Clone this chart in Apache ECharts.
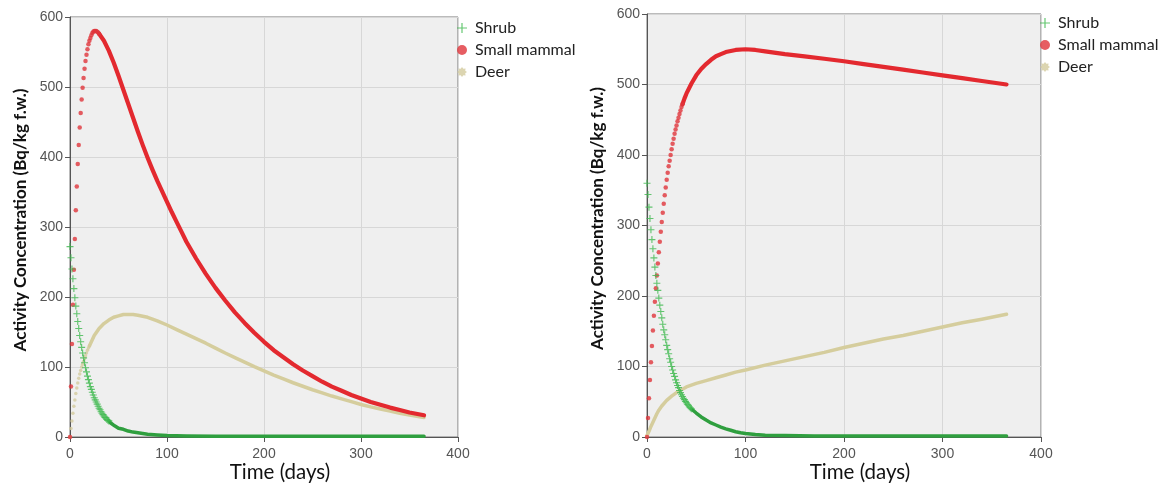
<!DOCTYPE html>
<html><head><meta charset="utf-8">
<script src="https://cdn.jsdelivr.net/npm/echarts@6/dist/echarts.min.js"></script>
<style>html,body{margin:0;padding:0;background:#fff}#c{width:1165px;height:484px}</style>
</head><body><div id="c"></div>
<script>
// ---- names / ticks ----
const seriesNames = ['Shrub', 'Small mammal', 'Deer'];
const xTicks = [0, 100, 200, 300, 400];
const yTicks = [0, 100, 200, 300, 400, 500, 600];
const xTitle = 'Time (days)';
const yTitle = 'Activity Concentration (Bq/kg f.w.)';

// ---- LEFT panel: daily values (index = day) for the early part ----
const leftShrubEarly = [272,256,240,226,212,199,187,176,165,155,145,136,128,120,113,106,99,93,87,82,77,72,68,64,60,56,53,50,47,44,41,39,36,34,32,30,28,27,25,24,23];
const leftMammalEarly = [0,72,133,189,239,283,324,358,390,417,442,463,482,499,513,526,537,546,554,561,566,570,574,577,579,580,580,580,579,578,576];
const leftDeerEarly = [0,12,23,34,44,53,62,70,77,84,90,95,100,104,108,112,116,120,124,127,130];
// ---- LEFT panel: [day, value] for the dense later part ----
const leftShrubTail = [[40,23],[42,20],[44,18],[46,16],[48,14],[50,12.5],[55,11],[60,8.5],[65,7],[70,6],[75,5],[80,4],[90,3],[100,2],[120,1.5],[150,1],[200,1],[250,1],[300,1],[365,1]];
const leftMammalTail = [[30,576],[35,566],[40,552],[45,535],[50,516],[55,496],[60,476],[65,456],[70,436],[75,417],[80,399],[85,382],[90,366],[95,351],[100,336],[105,321],[110,307],[115,293],[120,279],[130,255],[140,233],[150,213],[160,195],[170,178],[180,163],[190,149],[200,136],[210,124],[220,114],[230,104],[240,95],[250,87],[260,79],[270,72],[280,66],[290,60],[300,55],[310,50],[320,46],[330,42],[340,38.5],[350,35],[365,31]];
const leftDeerTail = [[20,130],[25,145],[30,155],[35,162],[40,167],[45,171],[50,173],[55,175],[60,175],[65,175],[70,174],[80,171],[90,166],[100,160],[110,153.5],[120,147],[130,140.5],[140,134],[150,127],[160,120],[170,113.5],[180,107],[190,100.5],[200,94.5],[210,88.5],[220,83],[230,77.5],[240,72.5],[250,67.5],[260,63],[270,58.5],[280,54.5],[290,50.5],[300,46.5],[310,43],[320,40],[330,37],[340,34],[350,31.5],[365,28]];

// ---- RIGHT panel ----
const rightShrubEarly = [360,344,326,310,294,280,267,254,241,229,218,208,197,187,178,169,160,152,145,138,130,124,118,111,106,100,95,90,86,81,77,73,70,66,63,60,57.5,55,53,50.5,48.5,46.5,45,43,41.5,40];
const rightMammalEarly = [0,27,55,81,106,129,151,172,192,211,229,246,262,277,291,305,318,331,343,354,365,375,384,392,400,408,416,423,430,436,442,448,453,458,463,468,472];
const rightShrubTail = [[45,40],[50,34],[55,28.5],[60,24],[65,20],[70,17],[75,14],[80,11.5],[85,9.5],[90,7.5],[95,6],[100,5],[110,3.5],[120,2.5],[140,2],[170,1.5],[200,1.5],[250,1.5],[300,1.5],[365,1.5]];
const rightMammalTail = [[36,472],[38,480],[40,487],[45,501],[50,513],[55,522],[60,529],[65,535],[70,540],[75,543],[80,546],[90,549],[100,550],[110,549],[120,547],[140,543],[160,540],[180,536.5],[200,533],[220,529],[240,525],[260,521],[280,517],[300,513],[320,509],[340,505],[365,500]];
const rightDeerTail = [[0,2],[2,8],[4,15],[6,21],[8,27],[10,33],[12,38],[15,44],[20,52],[25,58],[30,63],[35,67],[40,71],[50,76],[60,80],[70,84],[80,88],[90,92],[100,95],[120,102],[140,108],[160,114],[180,120],[200,127],[220,133],[240,139],[260,144],[280,150],[300,156],[320,162],[340,167],[365,174]];

// ---- styling ----
const RED = '#e3292f', RED_DOT = '#e0353b';
const GREEN_DOT = '#3fb94f', GREEN = '#2f9f3f';
const DEER = '#d5cd9d', DEER_DOT = '#d3cb9e';
const PLUS = 'path://M4.2,0H5.8V4.2H10V5.8H5.8V10H4.2V5.8H0V4.2H4.2Z';
const PLUS_LEG = 'path://M4.4,0H5.6V4.4H10V5.6H5.6V10H4.4V5.6H0V4.4H4.4Z';
const SUN = 'path://M10,5L8.23,6.34L8.54,8.54L6.34,8.23L5,10L3.66,8.23L1.46,8.54L1.77,6.34L0,5L1.77,3.66L1.46,1.46L3.66,1.77L5,0L6.34,1.77L8.54,1.46L8.23,3.66Z';

const daily = arr => arr.map((v, i) => [i, v]);

const chart = echarts.init(document.getElementById('c'), null, {renderer: 'canvas'});

function xAxisCfg(gi) {
  return {
    type: 'value', gridIndex: gi, min: xTicks[0], max: xTicks[xTicks.length - 1],
    interval: xTicks[1] - xTicks[0],
    name: xTitle, nameLocation: 'middle', nameGap: 25, nameMoveOverlap: false,
    nameTextStyle: {fontFamily: 'Lato', fontSize: 20.5, color: '#111', padding: [0, 0, 0, 32]},
    axisLine: {show: true, onZero: false, lineStyle: {color: '#555', width: 1}},
    axisTick: {show: true, length: 5, lineStyle: {color: '#555'}},
    axisLabel: {color: '#555', fontSize: 14, fontFamily: 'Liberation Sans', margin: 10},
    splitLine: {show: true, lineStyle: {color: '#d7d7d7', width: 1}}
  };
}
function yAxisCfg(gi) {
  return {
    type: 'value', gridIndex: gi, min: yTicks[0], max: yTicks[yTicks.length - 1],
    interval: yTicks[1] - yTicks[0],
    name: yTitle, nameLocation: 'middle', nameGap: 41,
    nameTextStyle: {fontFamily: 'Lato', fontWeight: 'bold', fontSize: 17, color: '#111', padding: [0, 0, 0, 14]},
    axisLine: {show: true, onZero: false, lineStyle: {color: '#555', width: 1}},
    axisTick: {show: true, length: 5, lineStyle: {color: '#555'}},
    axisLabel: {color: '#555', fontSize: 14, fontFamily: 'Liberation Sans', margin: 7},
    splitLine: {show: true, lineStyle: {color: '#d7d7d7', width: 1}}
  };
}
function legendCfg(left, top) {
  return {
    orient: 'vertical', left: left, top: top, itemWidth: 10, itemHeight: 10, itemGap: 4,
    textStyle: {fontFamily: 'Lato', fontSize: 16, color: '#222', lineHeight: 18, padding: [0, 0, 0, 3]},
    selectedMode: false,
    data: [
      {name: seriesNames[0], icon: PLUS_LEG},
      {name: seriesNames[1], icon: 'circle'},
      {name: seriesNames[2], icon: SUN}
    ]
  };
}
function panelSeries(gi, shrubEarly, shrubTail, mamEarly, mamTail, deerEarly, deerTail) {
  const s = [];
  const lineBase = {type: 'line', xAxisIndex: gi, yAxisIndex: gi, showSymbol: false, symbol: 'none', smooth: false};
  if (deerEarly) s.push({name: seriesNames[2], type: 'scatter', xAxisIndex: gi, yAxisIndex: gi, data: daily(deerEarly), symbol: 'circle', symbolSize: 3.5, itemStyle: {color: DEER_DOT}, z: 2});
  s.push(Object.assign({}, lineBase, {name: seriesNames[2], data: deerTail, lineStyle: {width: 3.5, color: DEER, cap: 'round', join: 'round'}, itemStyle: {color: DEER_DOT}, z: 2}));
  s.push({name: seriesNames[1], type: 'scatter', xAxisIndex: gi, yAxisIndex: gi, data: daily(mamEarly), symbol: 'circle', symbolSize: 4.5, itemStyle: {color: RED_DOT}, z: 3});
  s.push(Object.assign({}, lineBase, {name: seriesNames[1], data: mamTail, lineStyle: {width: 4.2, color: RED, cap: 'round', join: 'round'}, itemStyle: {color: RED_DOT}, z: 3}));
  s.push({name: seriesNames[0], type: 'scatter', xAxisIndex: gi, yAxisIndex: gi, data: daily(shrubEarly), symbol: PLUS, symbolSize: 7, itemStyle: {color: GREEN_DOT}, z: 4});
  s.push(Object.assign({}, lineBase, {name: seriesNames[0], data: shrubTail, lineStyle: {width: 3.5, color: GREEN, cap: 'round', join: 'round'}, itemStyle: {color: GREEN_DOT}, z: 4}));
  return s;
}

const gridBase = {show: true, backgroundColor: '#efefef', borderColor: '#777', borderWidth: 1, containLabel: false, outerBoundsMode: 'none'};

chart.setOption({
  animation: false,
  backgroundColor: '#ffffff',
  grid: [
    Object.assign({left: 70, top: 17, width: 388, height: 420}, gridBase),
    Object.assign({left: 647, top: 14, width: 394, height: 423}, gridBase)
  ],
  xAxis: [xAxisCfg(0), xAxisCfg(1)],
  yAxis: [yAxisCfg(0), yAxisCfg(1)],
  legend: [legendCfg(452, 14), legendCfg(1035, 9)],
  series: [].concat(
    panelSeries(0, leftShrubEarly, leftShrubTail, leftMammalEarly, leftMammalTail, leftDeerEarly, leftDeerTail),
    panelSeries(1, rightShrubEarly, rightShrubTail, rightMammalEarly, rightMammalTail, null, rightDeerTail)
  )
});
</script>
</body></html>
